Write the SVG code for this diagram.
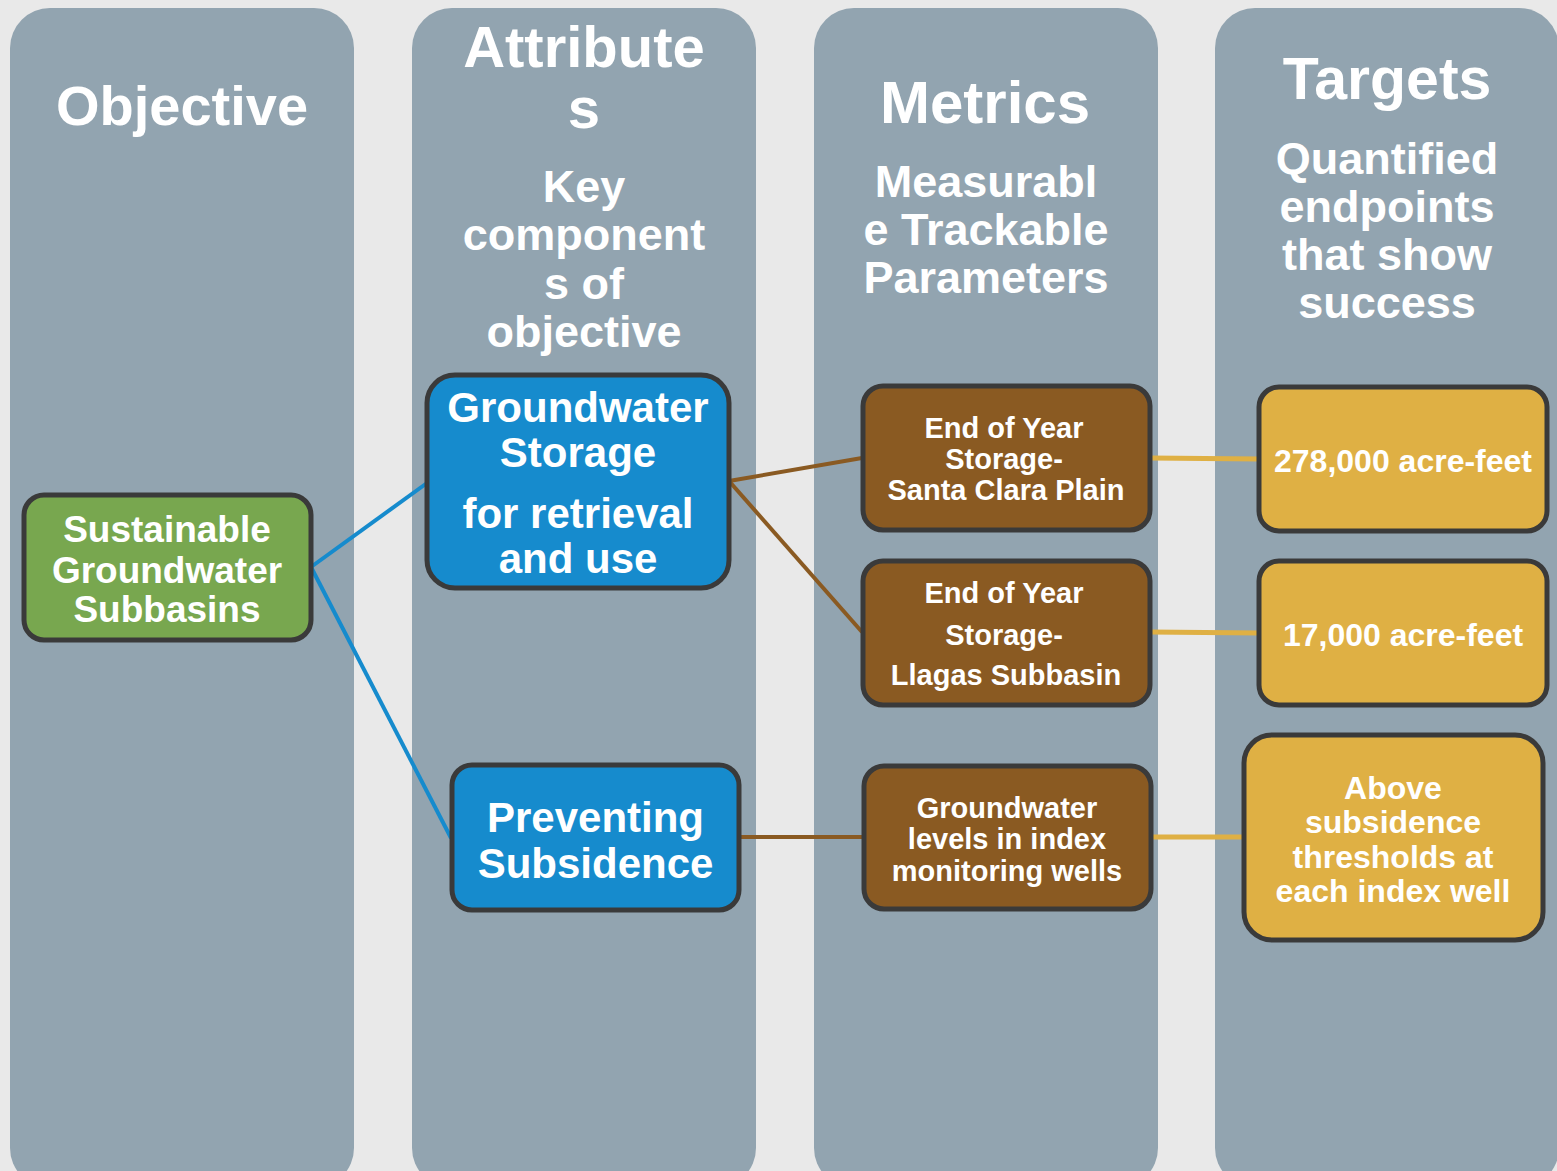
<svg xmlns="http://www.w3.org/2000/svg" width="1557" height="1171" viewBox="0 0 1557 1171">
<style>
text{font-family:"Liberation Sans",Arial,sans-serif;font-weight:bold;fill:#ffffff;text-anchor:middle}
.col{fill:#92a4b0}
.nd{stroke:#3a3a3a;stroke-width:5}
.g{fill:#78a74f}.b{fill:#168bcd}.br{fill:#8a5a22}.y{fill:#dfb044}
.h{font-size:58px}.s{font-size:45px}
.cb{stroke:#168bcd;stroke-width:4;fill:none}
.cbr{stroke:#8a5a22;stroke-width:4;fill:none}
.cy{stroke:#dfb044;stroke-width:5;fill:none}
</style>
<rect width="1557" height="1171" fill="#e9e9e9"/>
<g id="columns">
<rect class="col" x="10" y="8" width="344" height="1180" rx="40"/>
<rect class="col" x="412" y="8" width="344" height="1180" rx="40"/>
<rect class="col" x="814" y="8" width="344" height="1180" rx="40"/>
<rect class="col" x="1215" y="8" width="344" height="1180" rx="40"/>
<text class="h" x="182" y="125" style="font-size:56px">Objective</text>
<text class="h" x="584" y="67">Attribute</text>
<text class="h" x="584" y="128">s</text>
<text class="s" x="584" y="202">Key</text>
<text class="s" x="584" y="250">component</text>
<text class="s" x="584" y="299">s of</text>
<text class="s" x="584" y="347">objective</text>
<text class="h" x="985" y="123" style="font-size:60px">Metrics</text>
<text class="s" x="986" y="197">Measurabl</text>
<text class="s" x="986" y="245">e Trackable</text>
<text class="s" x="986" y="293">Parameters</text>
<text class="h" x="1387" y="99" style="font-size:59px">Targets</text>
<text class="s" x="1387" y="174">Quantified</text>
<text class="s" x="1387" y="222">endpoints</text>
<text class="s" x="1387" y="270">that show</text>
<text class="s" x="1387" y="318">success</text>
</g>
<g id="connectors">
<line class="cb" x1="311" y1="567" x2="427" y2="483"/>
<line class="cb" x1="311" y1="567" x2="451" y2="838"/>
<line class="cbr" x1="729" y1="481" x2="862" y2="458"/>
<line class="cbr" x1="729" y1="481" x2="862" y2="632"/>
<line class="cbr" x1="739" y1="837" x2="864" y2="837"/>
<line class="cy" x1="1150" y1="458" x2="1259" y2="459"/>
<line class="cy" x1="1150" y1="632" x2="1259" y2="633"/>
<line class="cy" x1="1152" y1="837" x2="1244" y2="837"/>
</g>
<g id="n-objective">
<rect class="nd g" x="24" y="495" width="287" height="145" rx="20"/>
<text x="167" y="542" style="font-size:37px">Sustainable</text>
<text x="167" y="583" style="font-size:37px">Groundwater</text>
<text x="167" y="622" style="font-size:37px">Subbasins</text>
</g>
<g id="n-storage">
<rect class="nd b" x="427" y="375" width="302" height="213" rx="28"/>
<text x="578" y="422" style="font-size:42px">Groundwater</text>
<text x="578" y="467" style="font-size:42px">Storage </text>
<text x="578" y="528" style="font-size:42px">for retrieval</text>
<text x="578" y="573" style="font-size:42px">and use</text>
</g>
<g id="n-subsidence">
<rect class="nd b" x="452" y="765" width="287" height="145" rx="20"/>
<text x="595.5" y="832" style="font-size:42px">Preventing</text>
<text x="595.5" y="878" style="font-size:42px">Subsidence</text>
</g>
<g id="n-metric1">
<rect class="nd br" x="863" y="386" width="287" height="144" rx="20"/>
<text x="1004" y="438" style="font-size:29px">End of Year</text>
<text x="1004" y="469" style="font-size:29px">Storage-</text>
<text x="1006" y="500" style="font-size:29px">Santa Clara Plain</text>
</g>
<g id="n-metric2">
<rect class="nd br" x="863" y="561" width="287" height="144" rx="20"/>
<text x="1004" y="603" style="font-size:29px">End of Year</text>
<text x="1004" y="645" style="font-size:29px">Storage-</text>
<text x="1006" y="685" style="font-size:29px">Llagas Subbasin</text>
</g>
<g id="n-metric3">
<rect class="nd br" x="864" y="766" width="287" height="143" rx="20"/>
<text x="1007" y="818" style="font-size:29px">Groundwater</text>
<text x="1007" y="849" style="font-size:29px">levels in index</text>
<text x="1007" y="881" style="font-size:29px">monitoring wells</text>
</g>
<g id="n-target1">
<rect class="nd y" x="1259" y="387" width="288" height="144" rx="20"/>
<text x="1403" y="472" style="font-size:32px">278,000 acre-feet</text>
</g>
<g id="n-target2">
<rect class="nd y" x="1259" y="561" width="288" height="144" rx="20"/>
<text x="1403" y="646" style="font-size:32px">17,000 acre-feet</text>
</g>
<g id="n-target3">
<rect class="nd y" x="1244" y="735" width="299" height="205" rx="28"/>
<text x="1393" y="799" style="font-size:32px">Above</text>
<text x="1393" y="833" style="font-size:32px">subsidence</text>
<text x="1393" y="868" style="font-size:32px">thresholds at</text>
<text x="1393" y="902" style="font-size:32px">each index well</text>
</g>
</svg>
